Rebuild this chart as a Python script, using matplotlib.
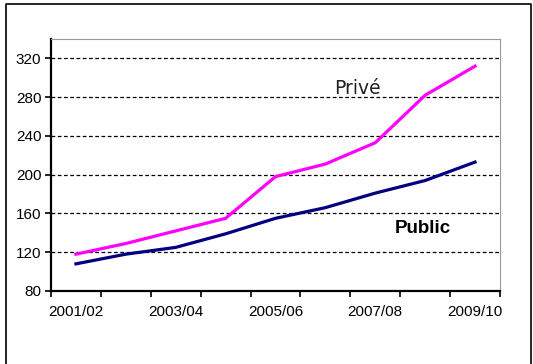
import matplotlib
matplotlib.use("Agg")
import matplotlib.pyplot as plt
from matplotlib.lines import Line2D
import numpy as np

# school years and the two series
years = ["2001/02", "2002/03", "2003/04", "2004/05", "2005/06",
         "2006/07", "2007/08", "2008/09", "2009/10"]
prive = [118, 129, 142, 155, 198, 211, 233, 282, 312]
public = [108, 118, 125, 139, 155, 166, 181, 194, 213]
yticks = [80, 120, 160, 200, 240, 280, 320]

plt.rcParams['font.family'] = ['Liberation Sans', 'DejaVu Sans']

fig = plt.figure(figsize=(5.33, 3.64), dpi=100)
ax = fig.add_axes([51/533, 1-291/364, 449/533, 252/364])

x = np.arange(len(years))
ax.plot(x, prive, color="#FF00FF", lw=2.3, solid_joinstyle="miter")
ax.plot(x, public, color="#000080", lw=2.3, solid_joinstyle="miter")

ax.set_xlim(-0.5, len(years)-0.5)
ax.set_ylim(80, 340)

# ticks at category boundaries, labels every other year
ax.set_xticks(np.arange(len(years)+1) - 0.5)
ax.set_xticklabels([])
ax.set_xticks(x[::2], minor=True)
ax.set_xticklabels(years[::2], minor=True)
ax.tick_params(axis="x", which="minor", length=0, pad=10, labelsize=11)
ax.tick_params(axis="x", which="major", length=4, width=1.2, direction="out")
ax.set_yticks(yticks)
ax.tick_params(axis="y", length=4, width=1.2, labelsize=11, pad=3)

for v in yticks[1:]:
    ax.axhline(v, color="black", lw=0.9, ls=(0, (3, 2)), zorder=0)

ax.spines["left"].set_linewidth(1.6)
ax.spines["bottom"].set_linewidth(1.6)
ax.spines["top"].set_color("#999999")
ax.spines["right"].set_color("#999999")
ax.spines["top"].set_linewidth(0.8)
ax.spines["right"].set_linewidth(0.8)

ax.text(5.64, 289, "Privé", fontsize=13.5, family=["DejaVu Sans"],
        ha="center", va="center", color="#222222")
ax.text(6.96, 144, "Public", fontsize=13.5,
        fontweight="bold", ha="center", va="center")

# outer frame
fig.add_artist(Line2D([6/533, 6/533, 531/533, 531/533], [0, 1-4/364, 1-4/364, 0],
                      transform=fig.transFigure, color="black", lw=1.2))

fig.savefig("out.png", dpi=100)
